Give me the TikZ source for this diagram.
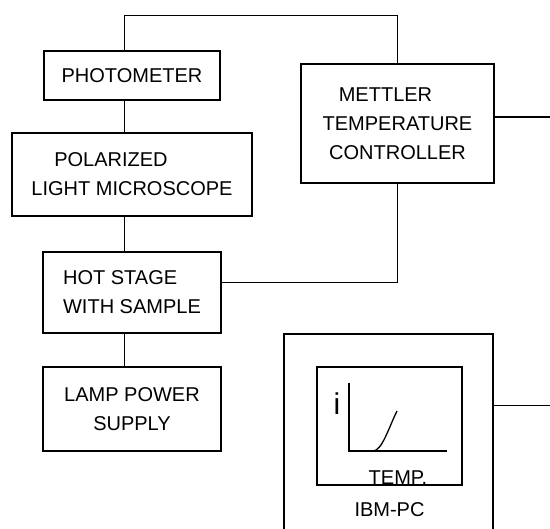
\documentclass[tikz,border=0pt]{standalone}
\usepackage{fontspec}
\setmainfont{Liberation Sans}
\begin{document}
\begin{tikzpicture}[x=1pt, y=1pt,
		font=\fontsize{20}{29}\selectfont,
		box/.style={draw, line width=1.4pt, inner sep=0pt, align=center},
		wire/.style={line width=1pt}]
		\useasboundingbox (0,0) rectangle (550,529);
		\clip (0,0) rectangle (550,529);
		% ---- optics column ----
		\node[box, minimum width=176pt, minimum height=49pt] (photometer) at (132,453.5) {PHOTOMETER};
		\node[box, minimum width=240pt, minimum height=83pt] (microscope) at (132,354.5) {POLARIZED\hspace*{42pt}\\LIGHT MICROSCOPE};
		\node[box, minimum width=178pt, minimum height=81pt, align=left] (hotstage) at (132,236.5) {HOT STAGE\\WITH SAMPLE};
		\node[box, minimum width=178pt, minimum height=84pt] (lamp) at (132,120) {LAMP POWER\\SUPPLY};
		% ---- controller and computer ----
		\node[box, minimum width=193pt, minimum height=119pt] (mettler) at (397.5,405.5) {METTLER\hspace*{24pt}\\TEMPERATURE\\CONTROLLER};
		\node[box, minimum width=209pt, minimum height=215pt] (ibm) at (388.5,87.5) {};
		\node[box, minimum width=145pt, minimum height=118pt] (screen) at (389.5,103) {};
		\node[anchor=base] (temp) at (398,44) {TEMP.};
		\node[anchor=base] (pc) at (389.5,12) {IBM-PC};
		% ---- plot on the screen ----
		\node[font=\fontsize{30}{30}\selectfont] (current) at (337,125) {i};
		\draw[line width=1.3pt] (349,146) -- (349,78) -- (447,78);
		\draw[line width=1.3pt] (373,78) .. controls (382,78) and (389,102) .. (397,118);
		% ---- wiring ----
		\coordinate (spine) at (124,513);
		\draw[wire] (photometer.north -| spine) -- (spine) -| (mettler.north);
		\draw[wire] (photometer.south -| spine) -- (microscope.north -| spine);
		\draw[wire] (microscope.south -| spine) -- (hotstage.north -| spine);
		\draw[wire] (hotstage.south -| spine) -- (lamp.north -| spine);
		\draw[wire] (mettler.south) |- ([yshift=9.5pt]hotstage.east);
		\draw[line width=2pt] ([yshift=6.5pt]mettler.east) -- ++(56,0);
		\draw[wire] ([yshift=35.5pt]ibm.east) -- ++(57,0);
	\end{tikzpicture}
\end{document}
